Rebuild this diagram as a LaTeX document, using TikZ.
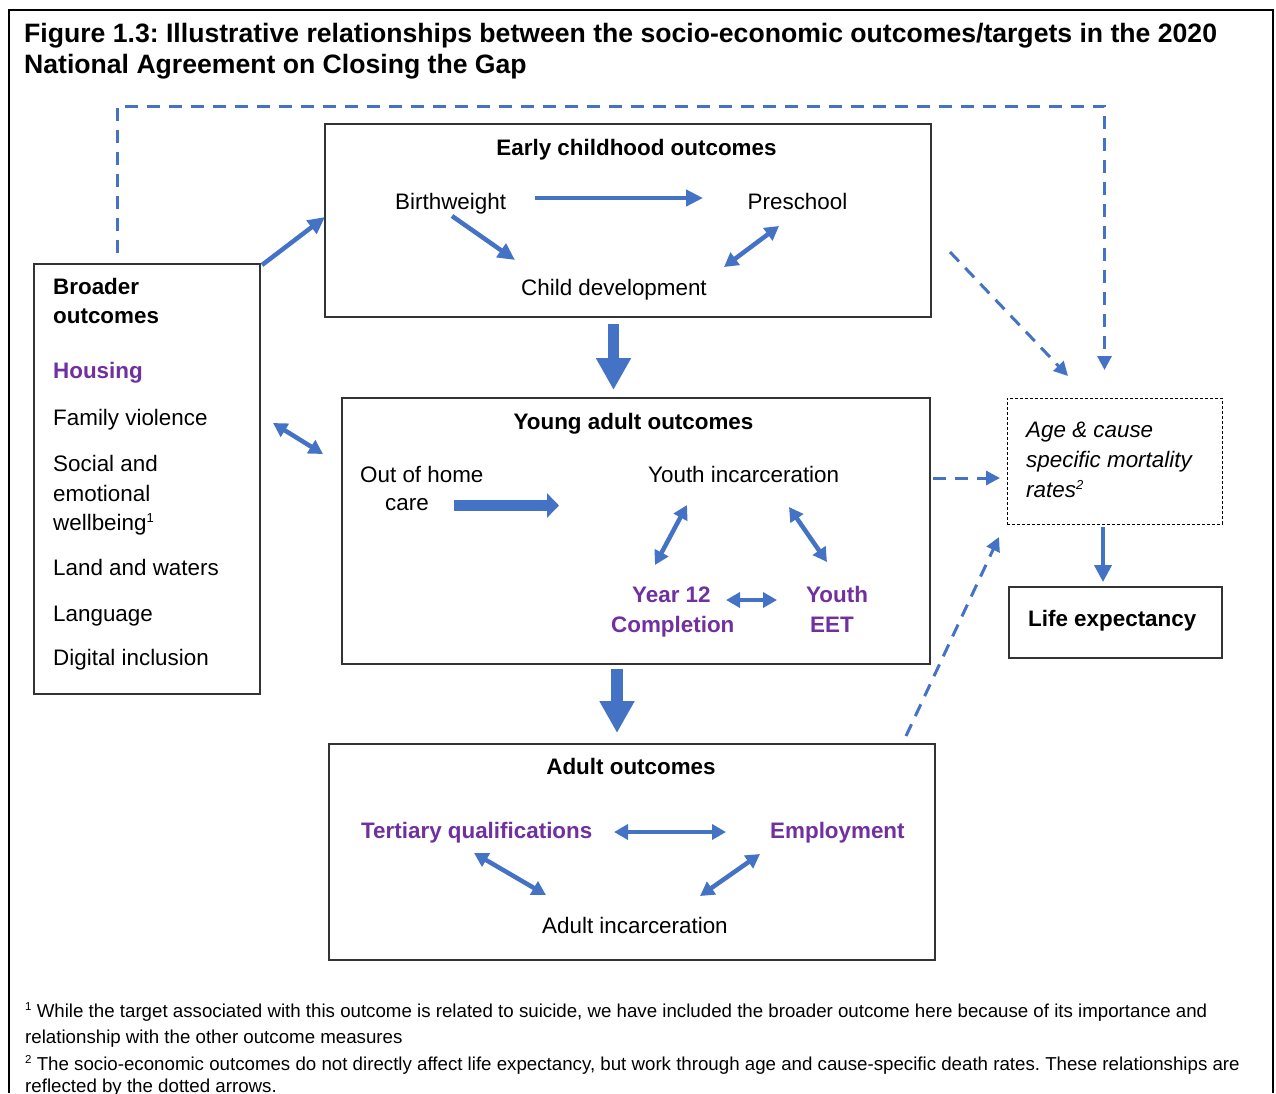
\documentclass[tikz,border=0pt]{standalone}
\usepackage{fontspec}
\setmainfont{Liberation Sans}
\usetikzlibrary{arrows.meta}
\definecolor{arrowblue}{HTML}{4472C4}
\definecolor{tgtpurple}{HTML}{7030A0}
\newcommand{\supnum}[1]{\raisebox{7.5pt}{\fontsize{13}{13}\selectfont #1}}
\newcommand{\fnnum}[1]{\raisebox{6.5pt}{\fontsize{11.5}{12}\selectfont #1}}
\begin{document}
\frenchspacing
\begin{tikzpicture}[x=1pt,y=-1pt,
  frame/.style={draw=black, line width=2pt},
  box/.style={draw=black!80, line width=1.2pt, inner sep=0pt, outer sep=0pt, anchor=north west},
  agebox/.style={draw=black, line width=1pt, dash pattern=on 3pt off 2pt, inner sep=0pt, outer sep=0pt, anchor=north west},
  lbl/.style={inner sep=0pt, anchor=base west, font=\fontsize{22.4}{26}\selectfont},
  lblc/.style={lbl, anchor=base},
  hdr/.style={lbl, font=\fontsize{22.4}{26}\selectfont\bfseries},
  hdrc/.style={hdr, anchor=base},
  tgt/.style={hdr, text=tgtpurple},
  itl/.style={lbl, font=\fontsize{22.4}{26}\selectfont\itshape},
  ttl/.style={inner sep=0pt, anchor=base west, font=\fontsize{26.6}{31}\selectfont\bfseries},
  note/.style={inner sep=0pt, anchor=base west, font=\fontsize{18.7}{26}\selectfont},
  onearrow/.style={draw=arrowblue, line width=4.5pt, -{Triangle[length=17pt,width=16pt]}},
  twoway/.style={draw=arrowblue, line width=4.5pt, {Triangle[length=14pt,width=15pt]}-{Triangle[length=14pt,width=15pt]}},
  bigarrow/.style={draw=arrowblue, line width=11.5pt, -{Triangle[length=32pt,width=33pt]}},
  flatarrow/.style={draw=arrowblue, line width=11pt, -{Triangle[length=12pt,width=24pt]}},
  lifearrow/.style={draw=arrowblue, line width=4pt, -{Triangle[length=17pt,width=17pt]}},
  dasharrow/.style={draw=arrowblue, line width=3pt, dash pattern=on 13pt off 9pt, -{Triangle[length=14pt,width=14pt]}}
]
\useasboundingbox (0,0) rectangle (1276,1093);
\fill[white] (0,0) rectangle (1276,1093);
% outer frame
\draw[frame] (9,1093) -- (9,10) -- (1273,10) -- (1273,1093);

% title
\node[ttl] (title1) at (24,42) {Figure 1.3: Illustrative relationships between the socio-economic outcomes/targets in the 2020};
\node[ttl] (title2) at (24,73) {National Agreement on Closing the Gap};

% boxes
\node[box, minimum width=606pt, minimum height=193pt] (early) at (325,124) {};
\node[box, minimum width=226pt, minimum height=430pt] (broad) at (34,264) {};
\node[box, minimum width=588pt, minimum height=266pt] (young) at (342,398) {};
\node[box, minimum width=606pt, minimum height=216pt] (adult) at (329,744) {};
\node[agebox, minimum width=215pt, minimum height=126pt] (age) at (1007,398) {};
\node[box, minimum width=213pt, minimum height=71pt] (life) at (1009,587) {};

% early childhood
\node[hdrc] (earlyt) at (636.5,155) {Early childhood outcomes};
\node[lbl] (bw) at (395,209) {Birthweight};
\node[lbl] (ps) at (747.5,209) {Preschool};
\node[lblc] (cd) at (614,295) {Child development};

% broader outcomes
\node[hdr] (brt1) at (53,294) {Broader};
\node[hdr] (brt2) at (53,323) {outcomes};
\node[tgt] (hous) at (53,378) {Housing};
\node[lbl] (fv) at (53,425) {Family violence};
\node[lbl] (se1) at (53,471) {Social and};
\node[lbl] (se2) at (53,501) {emotional};
\node[lbl] (se3) at (53,530) {wellbeing\supnum{1}};
\node[lbl] (lw) at (53,575) {Land and waters};
\node[lbl] (lang) at (53,621) {Language};
\node[lbl] (dig) at (53,665) {Digital inclusion};

% young adult
\node[hdrc] (youngt) at (633.5,429) {Young adult outcomes};
\node[lbl] (ooh1) at (360,482) {Out of home};
\node[lbl] (ooh2) at (385,510) {care};
\node[lbl] (yi) at (648,482) {Youth incarceration};
\node[tgt] (y12a) at (632,602) {Year 12};
\node[tgt] (y12b) at (611,632) {Completion};
\node[tgt] (eeta) at (806,602) {Youth};
\node[tgt] (eetb) at (810,632) {EET};

% adult
\node[hdrc] (adultt) at (631,774) {Adult outcomes};
\node[tgt] (tq) at (361,838) {Tertiary qualifications};
\node[tgt] (emp) at (770,838) {Employment};
\node[lbl] (ai) at (542,933) {Adult incarceration};

% age & life
\node[itl] (age1) at (1026,437) {Age \& cause};
\node[itl] (age2) at (1026,467) {specific mortality};
\node[itl] (age3) at (1026,497) {rates\supnum{2}};
\node[hdr] (lifet) at (1028,626) {Life expectancy};

% footnotes
\node[note] (fn1a) at (25,1017) {\fnnum{1} While the target associated with this outcome is related to suicide, we have included the broader outcome here because of its importance and};
\node[note] (fn1b) at (25,1043) {relationship with the other outcome measures};
\node[note] (fn2a) at (25,1070) {\fnnum{2} The socio-economic outcomes do not directly affect life expectancy, but work through age and cause-specific death rates. These relationships are};
\node[note] (fn2b) at (25,1092.5) {reflected by the dotted arrows.};

% connector end points
\coordinate (bwR) at (535,198);   \coordinate (psL) at (703,198);
\coordinate (bwS) at (452,216);   \coordinate (cdN) at (515,260);
\coordinate (psS) at (779,226);   \coordinate (cdNE) at (724,267);
\coordinate (brNE) at (262,265);  \coordinate (earlyW) at (325,217);
\coordinate (brE) at (273,423);   \coordinate (youngW) at (323,454);
\coordinate (earlyS) at (613.5,324); \coordinate (youngN) at (613.5,390);
\coordinate (oohE) at (454,505.5); \coordinate (oohT) at (559,505.5);
\coordinate (yiSW) at (687,505);  \coordinate (y12N) at (655,565);
\coordinate (yiSE) at (789,507);  \coordinate (eetN) at (827,562);
\coordinate (y12E) at (726,600);  \coordinate (eetW) at (777,600);
\coordinate (youngS) at (617,669); \coordinate (adultN) at (617,733);
\coordinate (tqE) at (614,832);   \coordinate (empW) at (726,832);
\coordinate (tqS) at (474,853);   \coordinate (aiNW) at (546,895);
\coordinate (empS) at (760,854);  \coordinate (aiNE) at (700,896);
\coordinate (ageS) at (1103,527); \coordinate (lifeN) at (1103,582);
\coordinate (brTop) at (117.5,253); \coordinate (cornerL) at (117.5,106);
\coordinate (cornerR) at (1104.5,106); \coordinate (ageTop) at (1104.5,370);
\coordinate (earlyE) at (950,252); \coordinate (ageNW) at (1068,376);
\coordinate (youngE) at (933,478); \coordinate (ageW) at (1000,478);
\coordinate (adultNE) at (906,736); \coordinate (ageSW) at (999,537);

% solid connectors
\draw[onearrow] (bwR) -- (psL);
\draw[onearrow] (bwS) -- (cdN);
\draw[twoway] (psS) -- (cdNE);
\draw[onearrow] (brNE) -- (earlyW);
\draw[twoway] (brE) -- (youngW);
\draw[bigarrow] (earlyS) -- (youngN);
\draw[flatarrow] (oohE) -- (oohT);
\draw[twoway] (yiSW) -- (y12N);
\draw[twoway] (yiSE) -- (eetN);
\draw[twoway] (y12E) -- (eetW);
\draw[bigarrow] (youngS) -- (adultN);
\draw[twoway] (tqE) -- (empW);
\draw[twoway] (tqS) -- (aiNW);
\draw[twoway] (empS) -- (aiNE);
\draw[lifearrow] (ageS) -- (lifeN);

% dashed connectors
\draw[dasharrow] (brTop) -- (cornerL) -- (cornerR) -- (ageTop);
\draw[dasharrow] (earlyE) -- (ageNW);
\draw[dasharrow] (youngE) -- (ageW);
\draw[dasharrow] (adultNE) -- (ageSW);
\end{tikzpicture}
\end{document}
